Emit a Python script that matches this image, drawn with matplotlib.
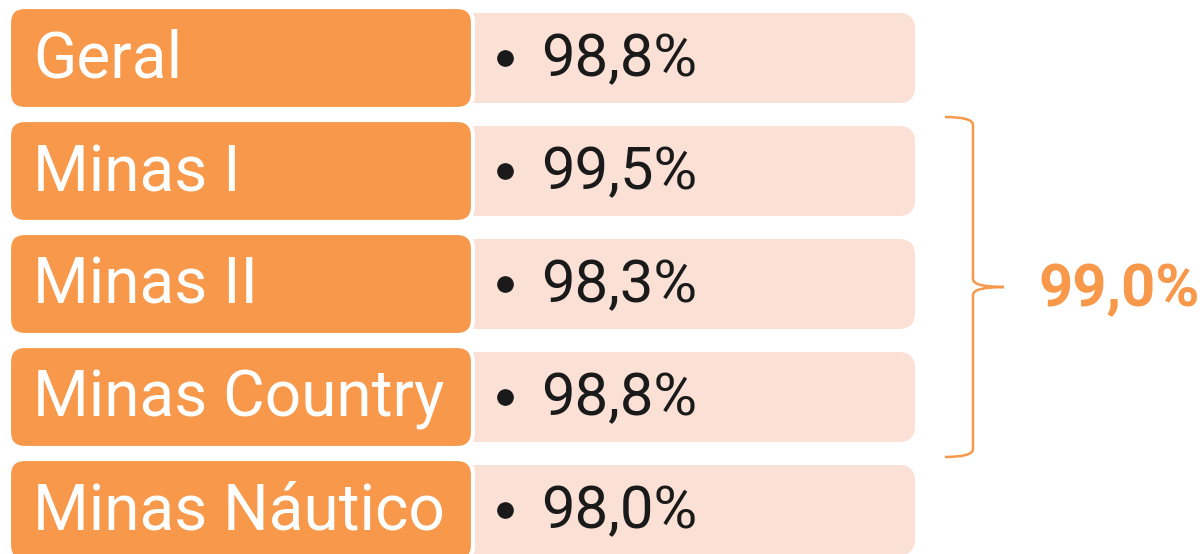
import matplotlib.pyplot as plt
from matplotlib.patches import FancyBboxPatch, PathPatch
from matplotlib.path import Path

# data
labels = ["Geral", "Minas I", "Minas II", "Minas Country", "Minas Náutico"]
values = [98.8, 99.5, 98.3, 98.8, 98.0]
grouped = [1, 2, 3]          # rows covered by the brace
group_value = 99.0

orange = "#F7984A"
pink = "#FBE0D5"

fig = plt.figure(figsize=(12.03, 5.54), dpi=100)
ax = fig.add_axes([0, 0, 1, 1])
ax.set_xlim(0, 1203)
ax.set_ylim(554, 0)
ax.axis("off")

def fmt(v):
    return f"{v:.1f}%".replace(".", ",")

pitch = 113
first = 58
for i, (lab, val) in enumerate(zip(labels, values)):
    yc = first + pitch * i
    # pink value box (behind)
    ax.add_patch(FancyBboxPatch((455, yc - 45), 460, 90,
                                boxstyle="round,pad=0,rounding_size=16",
                                fc=pink, ec="none", zorder=1))
    # orange label box
    ax.add_patch(FancyBboxPatch((9, yc - 51), 464, 102,
                                boxstyle="round,pad=0,rounding_size=16",
                                fc=orange, ec="white", lw=3, zorder=2))
    ax.text(33, yc + 2, lab, color="white", fontsize=46, family="Roboto",
            va="center", ha="left", zorder=3)
    ax.plot(505, yc, "o", ms=11, color="#1a1a1a", zorder=3)
    ax.text(541, yc + 2, fmt(val), color="#1a1a1a", fontsize=43, family="Roboto",
            va="center", ha="left", zorder=3)

# brace
top = first + pitch * grouped[0] - 54
bot = first + pitch * grouped[-1] + 60
mid = (top + bot) / 2
xv, xl, xt = 973, 945, 1004
verts = [(xl, top), (xv, top), (xv, top + 8), (xv, mid - 8),
         (xv, mid), (xt, mid), (xv, mid), (xv, mid + 8),
         (xv, bot - 8), (xv, bot), (xl, bot)]
codes = [Path.MOVETO, Path.CURVE3, Path.CURVE3, Path.LINETO,
         Path.CURVE3, Path.CURVE3, Path.CURVE3, Path.CURVE3,
         Path.LINETO, Path.CURVE3, Path.CURVE3]
ax.add_patch(PathPatch(Path(verts, codes), fc="none", ec=orange, lw=1.8))
ax.text(1119, mid + 3, fmt(group_value), color=orange, fontsize=43,
        fontweight="bold", family="Roboto", ha="center", va="center")

fig.savefig("out.png", dpi=100)
